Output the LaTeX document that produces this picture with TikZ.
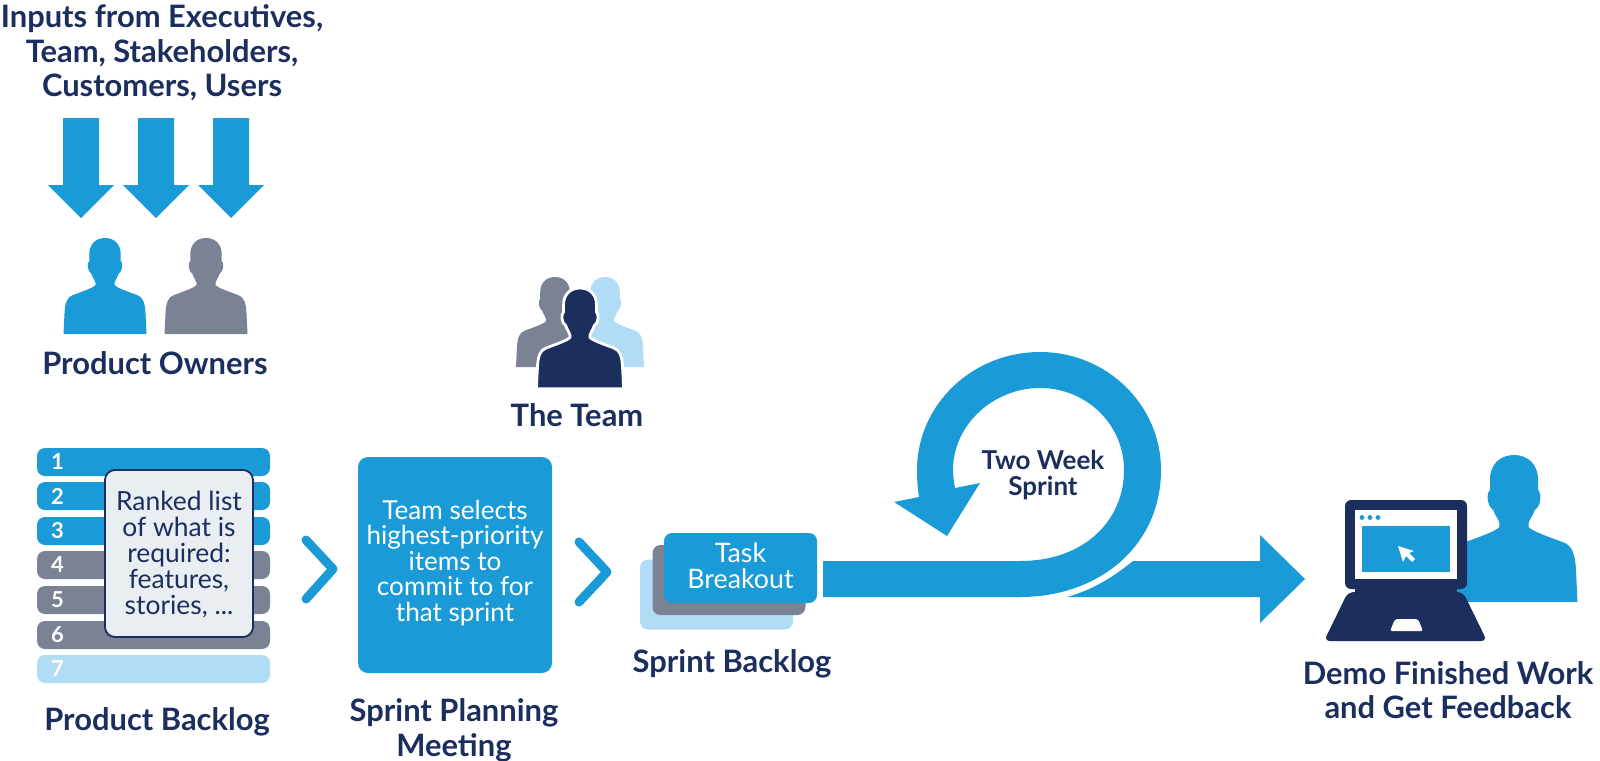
\documentclass[tikz,border=0pt]{standalone}
\usepackage{fontspec}
\setmainfont{Lato}
\definecolor{skyblue}{HTML}{1A9BD7}
\definecolor{slategray}{HTML}{7B8294}
\definecolor{paleblue}{HTML}{B0DDF5}
\definecolor{navy}{HTML}{1B2E5E}
\definecolor{notegray}{HTML}{E9EEF2}
\tikzset{
  person/.pic={
    \path[pic actions] (0,0) .. controls (9,0) and (15.7,6) .. (15.7,16) -- (15.7,23)
      .. controls (17.8,24) and (18.3,33) .. (13.5,36) .. controls (12.5,40) and (9.7,42) .. (9.5,45) -- (9.5,47)
      .. controls (12,50) and (24,54) .. (32,57) .. controls (38,59) and (40,65) .. (40.5,75) -- (41.5,96)
      -- (-41.5,96) -- (-40.5,75) .. controls (-40,65) and (-38,59) .. (-32,57) .. controls (-24,54) and (-12,50) .. (-9.5,47)
      -- (-9.5,45) .. controls (-9.7,42) and (-12.5,40) .. (-13.5,36) .. controls (-18.3,33) and (-17.8,24) .. (-15.7,23)
      -- (-15.7,16) .. controls (-15.7,6) and (-9,0) .. (0,0) -- cycle;
  },
  inarrow/.pic={
    \fill[skyblue] (-18,0) -- (18,0) -- (18,67) -- (33,67) -- (0,100) -- (-33,67) -- (-18,67) -- cycle;
  }
}
\begin{document}
\begin{tikzpicture}[x=0.5pt, y=-0.5pt, >=stealth]

    % Define the styles for the nodes
    \tikzstyle{label} = [text=navy, font=\bfseries\fontsize{15.45}{17.3}\selectfont, align=center, inner sep=0pt]
    \tikzstyle{bar} = [rounded corners=4pt, minimum width=116.5pt, minimum height=14pt, inner xsep=7pt, inner ysep=0pt, text width=102.5pt, align=left, text=white, font=\bfseries\fontsize{11}{12}\selectfont]
    \tikzstyle{card} = [rounded corners=4pt, minimum width=76.5pt, minimum height=35pt, inner sep=0pt]
    \tikzstyle{chevron} = [draw=skyblue, line width=4.5pt, line cap=round, line join=round]

    \useasboundingbox (0,0) rectangle (1600,760);

    % Inputs
    \node (inputs) [label] at (162,53) {Inputs from Executives,\\Team, Stakeholders,\\Customers, Users};
    \pic at (81,118) {inarrow};
    \pic at (156,118) {inarrow};
    \pic at (231,118) {inarrow};

    % Product owners
    \pic[fill=skyblue] at (105,238) {person};
    \pic[fill=slategray] at (206,238) {person};
    \node (owners) [label] at (155,363) {Product Owners};

    % Backlog
    \node (bar1) [bar, fill=skyblue] at (153.5,462) {1};
    \node (bar2) [bar, fill=skyblue] at (153.5,496) {2};
    \node (bar3) [bar, fill=skyblue] at (153.5,531) {3};
    \node (bar4) [bar, fill=slategray] at (153.5,565) {4};
    \node (bar5) [bar, fill=slategray] at (153.5,600) {5};
    \node (bar6) [bar, fill=slategray] at (153.5,635) {6};
    \node (bar7) [bar, fill=paleblue] at (153.5,669) {7};
    \node (note) [draw=navy, fill=notegray, line width=0.9pt, rounded corners=5pt, minimum width=74pt, minimum height=83.5pt, inner sep=0pt] at (179,553.5) {};
    \node (notetext) [text=navy, align=center, inner sep=0pt, font=\fontsize{13.2}{13}\selectfont] at (179,555) {Ranked list\\of what is\\required:\\features,\\stories, ...};
    \node (backlog) [label] at (157,722) {Product Backlog};

    \draw[chevron] (306,540) -- (333,569) -- (306,599);

    % Sprint planning
    \node (planning) [fill=skyblue, rounded corners=5pt, minimum width=97pt, minimum height=108pt, inner sep=0pt] at (455,565) {};
    \node (planningtext) [text=white, align=center, inner sep=0pt, font=\fontsize{13.05}{12.8}\selectfont] at (455,563) {Team selects\\highest-priority\\items to\\commit to for\\that sprint};
    \node (meeting) [label] at (454,730) {Sprint Planning\\Meeting};

    \draw[chevron] (579,542) -- (607,572) -- (579,602);

    % The team
    \pic[fill=slategray, scale=0.94] at (555,277) {person};
    \pic[fill=paleblue, scale=0.94] at (605,277) {person};
    \pic[fill=navy, draw=white, line width=1.4pt, scale=1.05] at (580,288) {person};
    \node (team) [label] at (577,415) {The Team};

    % Task cards
    \node (card3) [card, fill=paleblue] at (716.5,594.5) {};
    \node (card2) [card, fill=slategray] at (729,580) {};
    \node (card1) [card, fill=skyblue] at (740.5,568) {};
    \node (cardtext) [text=white, align=center, inner sep=0pt, font=\fontsize{13.4}{13}\selectfont] at (740.5,566) {Task\\Breakout};
    \node (sprintbacklog) [label] at (732,664) {Sprint Backlog};

    % Sprint loop
    \fill[skyblue] (823,561) -- (1020,561) .. controls (1085,561) and (1124,520) .. (1124,470)
      .. controls (1124,425) and (1087,388) .. (1040,388) .. controls (993,388) and (953,425) .. (953,470)
      .. controls (953,476) and (954,482) .. (955,488) -- (980,483) -- (947,536) -- (894,502) -- (919,497)
      .. controls (917.5,488) and (917,479) .. (917,470) .. controls (917,405) and (972,352) .. (1040,352)
      .. controls (1107,352) and (1161,405) .. (1161,470) .. controls (1161,545) and (1100,597) .. (1020,597)
      -- (823,597) -- cycle;
    \fill[skyblue] (1133,561) -- (1260,561) -- (1260,535) -- (1305,579) -- (1260,623) -- (1260,597) -- (1067,597)
      .. controls (1092,590) and (1112,578) .. (1133,561) -- cycle;
    \node (sprint) [text=navy, align=center, font=\bfseries\fontsize{13}{13}\selectfont] at (1043,475) {Two Week\\Sprint};

    % Demo
    \pic[fill=skyblue, scale=1.53] at (1514,455) {person};
    \fill[navy, rounded corners=3pt] (1345,500) rectangle (1467,589);
    \fill[white] (1355,510) rectangle (1457,579);
    \fill[skyblue] (1362,526) rectangle (1450,572);
    \fill[skyblue] (1362,517.5) circle (2.4) (1370,517.5) circle (2.4) (1378,517.5) circle (2.4);
    \fill[white] (1398,546) -- (1403,562) -- (1406,556) -- (1412,562) -- (1415,559) -- (1409,553) -- (1414,551) -- cycle;
    \fill[navy] (1355,585) rectangle (1457,595);
    \fill[navy, rounded corners=3pt] (1348,592) -- (1463,592) -- (1487,641) -- (1324,641) -- cycle;
    \fill[white, rounded corners=1pt] (1395,619) -- (1418,619) -- (1423,631) -- (1390,631) -- cycle;
    \node (demo) [label] at (1448,690) {Demo Finished Work\\and Get Feedback};

\end{tikzpicture}
\end{document}
